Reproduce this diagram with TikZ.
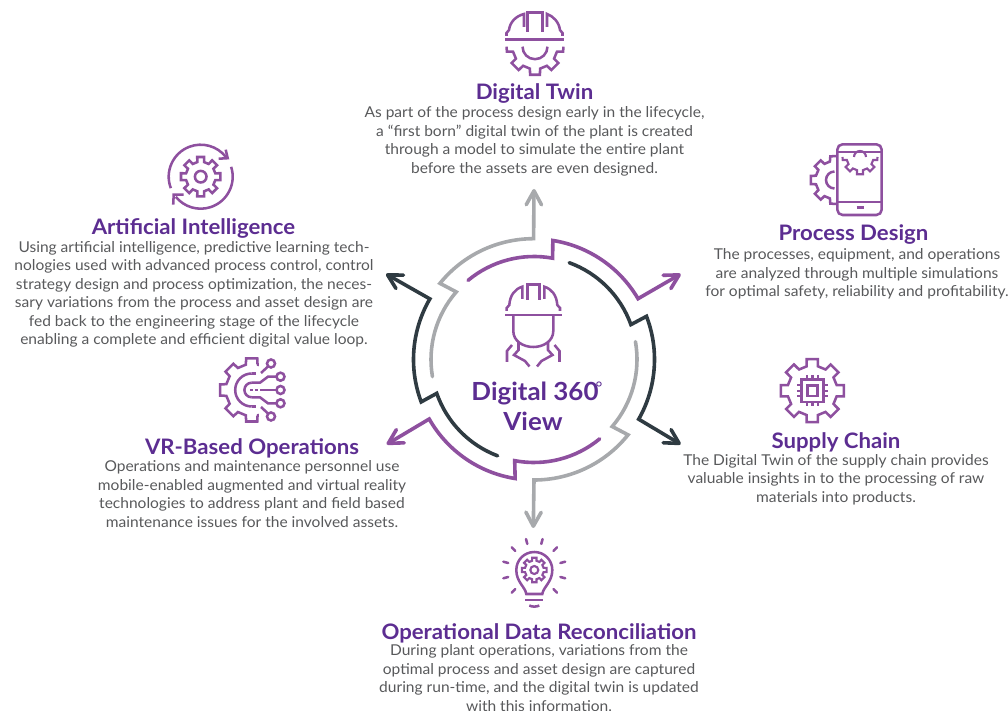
\documentclass[tikz,border=0pt]{standalone}
\usepackage{fontspec}
\setmainfont{Lato}[FakeStretch=1.04]
\usetikzlibrary{arrows.meta}
\definecolor{titlepurple}{HTML}{5C2D91}
\definecolor{iconpurple}{HTML}{8E509F}
\definecolor{ringdark}{HTML}{2F3B42}
\definecolor{ringgrey}{HTML}{A7A9AC}
\definecolor{bodygrey}{HTML}{58595B}
\tikzset{
 pix/.style={shift={(0,711)},yscale=-1},
 ringline/.style={line width=2.7pt,line cap=round,line join=miter,miter limit=10},
 ringarrow/.style={ringline,-{Straight Barb[length=10.5pt,width=11.5pt,line cap=round,round]}},
 iconline/.style={draw=iconpurple,line width=1.9pt,line join=miter,line cap=butt},
 iconthin/.style={iconline,line width=1.6pt},
 titletext/.style={inner sep=0pt,text=titlepurple,font=\fontsize{16}{18}\selectfont\bfseries},
 bodytext/.style={inner sep=0pt,anchor=north,align=center,text=bodygrey,font=\fontsize{11.2}{13.9}\selectfont},
 centertext/.style={inner sep=0pt,text=titlepurple,font=\fontsize{18.7}{22}\selectfont\bfseries},
}
\newcommand{\gearline}[7]{\draw[iconline,shift={(#1,#2)}] (#6) \foreach \a in {#5}{ -- (\a-13:#4) -- (\a-10:#3) -- (\a+10:#3) -- (\a+13:#4) } -- (#7);}
\newcommand{\gearhalf}[5][iconline]{\draw[#1,shift={(#2,#3)}] (0:#4) -- (10:#4) -- (13:#5) \foreach \a in {45,90,135}{ -- (\a-13:#5) -- (\a-10:#4) -- (\a+10:#4) -- (\a+13:#5) } -- (167:#5) -- (170:#4) -- (180:#4);}
\newcommand{\gearclosed}[5][iconline]{\draw[#1,shift={(#2,#3)}] (-13:#5) \foreach \a in {0,45,...,315}{ -- (\a-13:#5) -- (\a-10:#4) -- (\a+10:#4) -- (\a+13:#5) } -- cycle;}
\begin{document}
\begin{tikzpicture}[x=0.75pt,y=0.75pt]
\begin{scope}[pix]
\useasboundingbox (0,0) rectangle (1008,711);
% ring
\begin{scope}[shift={(534,359.5)}]
\coordinate (tipN) at (0,-170.5);
\coordinate (tipNE) at (146.7,-85.5);
\coordinate (tipSE) at (146.7,84.8);
\coordinate (tipS) at (-0.7,168.5);
\coordinate (tipSW) at (-147.3,84.8);
\coordinate (tipNW) at (-148,-85.5);
\draw[ringarrow,draw=ringgrey] (-189.6:103) arc[start angle=-189.6,end angle=-139,radius=103] -- (-141:121) arc[start angle=-141,end angle=-90,radius=120.5] -- (tipN);
\draw[ringarrow,draw=iconpurple] (-129.8:103) arc[start angle=-129.8,end angle=-79.6,radius=103] -- (-81:120.5) arc[start angle=-81,end angle=-30.3,radius=120.5] -- (tipNE);
\draw[ringarrow,draw=ringdark] (-70:103) arc[start angle=-70,end angle=-19.8,radius=103] -- (-21:120.5) arc[start angle=-21,end angle=29.7,radius=120.5] -- (tipSE);
\draw[ringarrow,draw=ringgrey] (-10:103) arc[start angle=-10,end angle=40.6,radius=103] -- (38.7:120.5) arc[start angle=38.7,end angle=90,radius=120.5] -- (tipS);
\draw[ringarrow,draw=iconpurple] (50.4:103) arc[start angle=50.4,end angle=100.8,radius=103] -- (99:120.5) arc[start angle=99,end angle=150.4,radius=120.5] -- (tipSW);
\draw[ringarrow,draw=ringdark] (110.7:103) arc[start angle=110.7,end angle=160.8,radius=103] -- (159.4:120.5) arc[start angle=159.4,end angle=210.2,radius=120.5] -- (tipNW);
\end{scope}
% worker
\draw[iconline] (505,315) -- (561.7,315);
\draw[iconline] (506.7,311) -- (506.7,308) -- (509.3,305) .. controls (510,295) and (515,289) .. (522.3,286.7) -- (522.3,299);
\draw[iconline] (560,311) -- (560,308) -- (557.3,305) .. controls (556.6,295) and (551.6,289) .. (544.3,286.7) -- (544.3,299);
\draw[iconline] (527.3,300) -- (527.3,284.3) -- (539.7,284.3) -- (539.7,300);
\draw[iconline] (513.3,316) -- (513.3,331) .. controls (513.3,341) and (523,347) .. (533.3,347) .. controls (543.6,347) and (553.3,341) .. (553.3,331) -- (553.3,316);
\draw[iconline] (518.5,342) -- (518.5,350) -- (514,355) -- (525,361) -- (529.5,366.5);
\draw[iconline] (548,342) -- (548,350) -- (552.5,355) -- (541.5,361) -- (537,366.5);
\draw[iconline] (512,345) -- (507,351) -- (507,362);
\draw[iconline] (554.5,345) -- (559.5,351) -- (559.5,362);
% digital twin icon
\draw[iconline] (505,39.3) -- (564,39.3);
\draw[iconline] (506.5,36) -- (506.5,33) -- (509,30) .. controls (510,22) and (516,16) .. (524,14) -- (524,27);
\draw[iconline] (562.5,36) -- (562.5,33) -- (560,30) .. controls (559,22) and (553,16) .. (547,14) -- (547,27);
\draw[iconline] (527.7,31.7) -- (527.7,12.3) -- (542.7,12.3) -- (542.7,31.7);
\gearhalf{535}{46.7}{28.5}{22.5}
\draw[iconline] (547.5,46.7) arc[start angle=0,end angle=180,radius=12.5];
% process design icon
\draw[iconline,rounded corners=4pt] (837.3,144.3) rectangle (881.7,215);
\draw[iconline] (837.3,152) -- (881.7,152) (837.3,202) -- (881.7,202) (856.5,207.7) -- (863.5,207.7);
\gearhalf[iconthin]{860}{157}{17.5}{13.5}
\draw[iconthin] (866,157) arc[start angle=0,end angle=-180,radius=6];
\draw[iconline,shift={(834.5,180)}] (86:24) -- (100:24) -- (104:19) \foreach \a in {135,180,225}{ -- (\a-13:19) -- (\a-10:24) -- (\a+10:24) -- (\a+13:19) } -- (256:19) -- (260:24) -- (274:24);
\draw[iconline] (834.5,171.5) arc[start angle=-90,end angle=-270,radius=8.5];
% supply chain icon
\gearclosed{812.3}{390.7}{32}{25}
\draw[iconline] (801.5,379.5) rectangle (823.5,402);
\draw[iconthin] (807.5,385.5) rectangle (817.5,396);
\foreach \i in {-5.5,0,5.5}{
 \draw[iconthin] (812.5+\i,375) -- (812.5+\i,379);
 \draw[iconthin] (812.5+\i,402.5) -- (812.5+\i,406.5);
 \draw[iconthin] (797,390.7+\i) -- (801,390.7+\i);
 \draw[iconthin] (824,390.7+\i) -- (828,390.7+\i);
}
% bulb icon
\begin{scope}[shift={(534.3,570)}]
\foreach \a in {-75,-105,-135,-45,-165,-15,165,15,135,45}{ \draw[iconline,line cap=round] (\a:27) -- (\a:32); }
\draw[iconline] (-8,24) .. controls (-9,17) and (-18,12) .. (-18,0) .. controls (-18,-10) and (-10,-18) .. (0,-18) .. controls (10,-18) and (18,-10) .. (18,0) .. controls (18,12) and (9,17) .. (8,24) -- cycle;
\draw[iconline] (-9,30) -- (9,30);
\draw[iconline] (-5,35.5) .. controls (-2,37) and (2,37) .. (5,35.5);
\gearclosed[iconthin]{0}{0}{12.5}{9.5}
\draw[iconthin] (0,0) circle[radius=4];
\end{scope}
% vr icon
\gearline{251.7}{390}{32}{26}{90,135,180,225,270}{78:26}{282:26}
\draw[iconline] (251.7,373.5) arc[start angle=-90,end angle=-270,radius=16.5];
\draw[iconline] (251.7,382.7) arc[start angle=-90,end angle=-270,radius=7.3];
\draw[iconline] (251.7,382.7) -- (260,382.7) -- (268,376.7) -- (276,376.7);
\draw[iconline] (251.7,397.3) -- (260,397.3) -- (268,403.3) -- (276,403.3);
\draw[iconline] (251.7,373.5) -- (256,373.5);
\draw[iconline] (251.7,406.5) -- (256,406.5);
\draw[iconline] (261,373) -- (268,366.5);
\draw[iconline] (261,407) -- (268,413.5);
\draw[iconline,dash pattern=on 2pt off 2pt] (250,390) -- (258,390);
\draw[iconline] (260,390) -- (276,390);
\foreach \p in {(271,363.5),(280.5,376.7),(280.5,390),(280.5,403.3),(271,416.5)}{\draw[iconline] \p circle[radius=4];}
% AI icon
\begin{scope}[shift={(200.7,176.7)}]
\draw[iconline] (159:32) arc[start angle=159,end angle=322,radius=32];
\draw[iconline] (-18:32) arc[start angle=-18,end angle=141,radius=32];
\draw[iconline] (18,-18) -- (27,-18.5) -- (25,-27);
\draw[iconline] (-27.5,28) -- (-27,18) -- (-17,18);
\gearclosed{0}{0}{20}{15}
\draw[iconline] (0,0) circle[radius=5.8];
\end{scope}
% texts
\node[centertext] (center1) at (535,393) {Digital 360};
\node[centertext] (center2) at (533,421.5) {View};
\node[inner sep=0pt,text=titlepurple,font=\fontsize{12}{14}\selectfont] (deg) at (599,388) {°};
\node[titletext] (t1) at (534.5,94) {Digital Twin};
\node[bodytext] (b1) at (534.5,106.5) {As part of the process design early in the lifecycle,\\a “first born” digital twin of the plant is created\\through a model to simulate the entire plant\\before the assets are even designed.};
\node[titletext] (t2) at (853.5,235) {Process Design};
\node[bodytext] (b2) at (857,248.5) {The processes, equipment, and operations\\are analyzed through multiple simulations\\for optimal safety, reliability and profitability.};
\node[titletext] (t3) at (836,442.5) {Supply Chain};
\node[bodytext] (b3) at (836,454) {The Digital Twin of the supply chain provides\\valuable insights in to the processing of raw\\materials into products.};
\node[titletext] (t4) at (539,633) {Operational Data Reconciliation};
\node[bodytext] (b4) at (539,644.5) {During plant operations, variations from the\\optimal process and asset design are captured\\during run-time, and the digital twin is updated\\with this information.};
\node[titletext] (t5) at (252,448) {VR-Based Operations};
\node[bodytext] (b5) at (252,460.5) {Operations and maintenance personnel use\\mobile-enabled augmented and virtual reality\\technologies to address plant and field based\\maintenance issues for the involved assets.};
\node[titletext] (t6) at (193.5,228) {Artificial Intelligence};
\node[bodytext] (b6) at (194,241) {Using artificial intelligence, predictive learning tech-\\nologies used with advanced process control, control\\strategy design and process optimization, the neces-\\sary variations from the process and asset design are\\fed back to the engineering stage of the lifecycle\\enabling a complete and efficient digital value loop.};
\end{scope}
\end{tikzpicture}
\end{document}
